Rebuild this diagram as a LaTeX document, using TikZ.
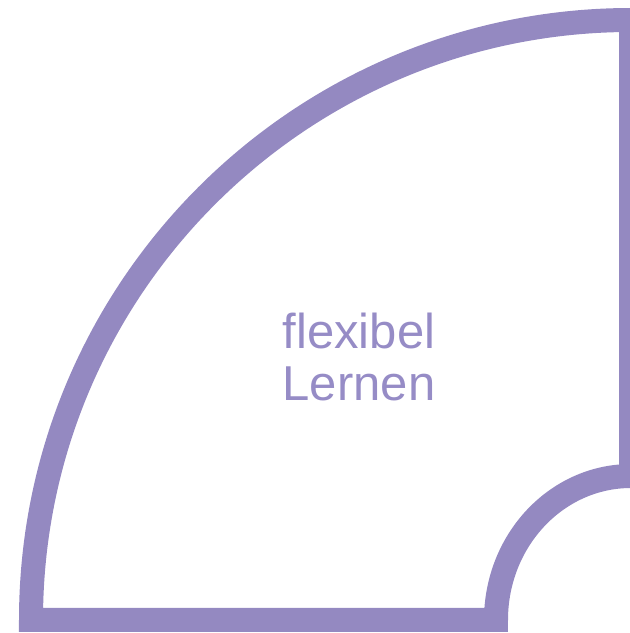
\documentclass[tikz,border=0pt]{standalone}
\usepackage{fontspec}
\setmainfont{Liberation Sans}
\definecolor{ringpurple}{HTML}{9489C1}
\definecolor{textpurple}{HTML}{968CC6}
\begin{document}
\begin{tikzpicture}[x=1pt,y=1pt,
  ring/.style={draw=ringpurple,line width=24pt,line join=miter},
  label/.style={text=textpurple,align=center,font=\fontsize{49}{52}\selectfont,inner sep=0pt}]
\useasboundingbox (0,0) rectangle (630,633);
\coordinate (c) at (631,13);
\draw[ring] (631,157) -- (631,613) arc[start angle=90,end angle=180,radius=600] -- (496,13) arc[start angle=180,end angle=90,x radius=135,y radius=144] -- cycle;
\node[label] (t) at (359,276) {flexibel\\Lernen};
\end{tikzpicture}
\end{document}
